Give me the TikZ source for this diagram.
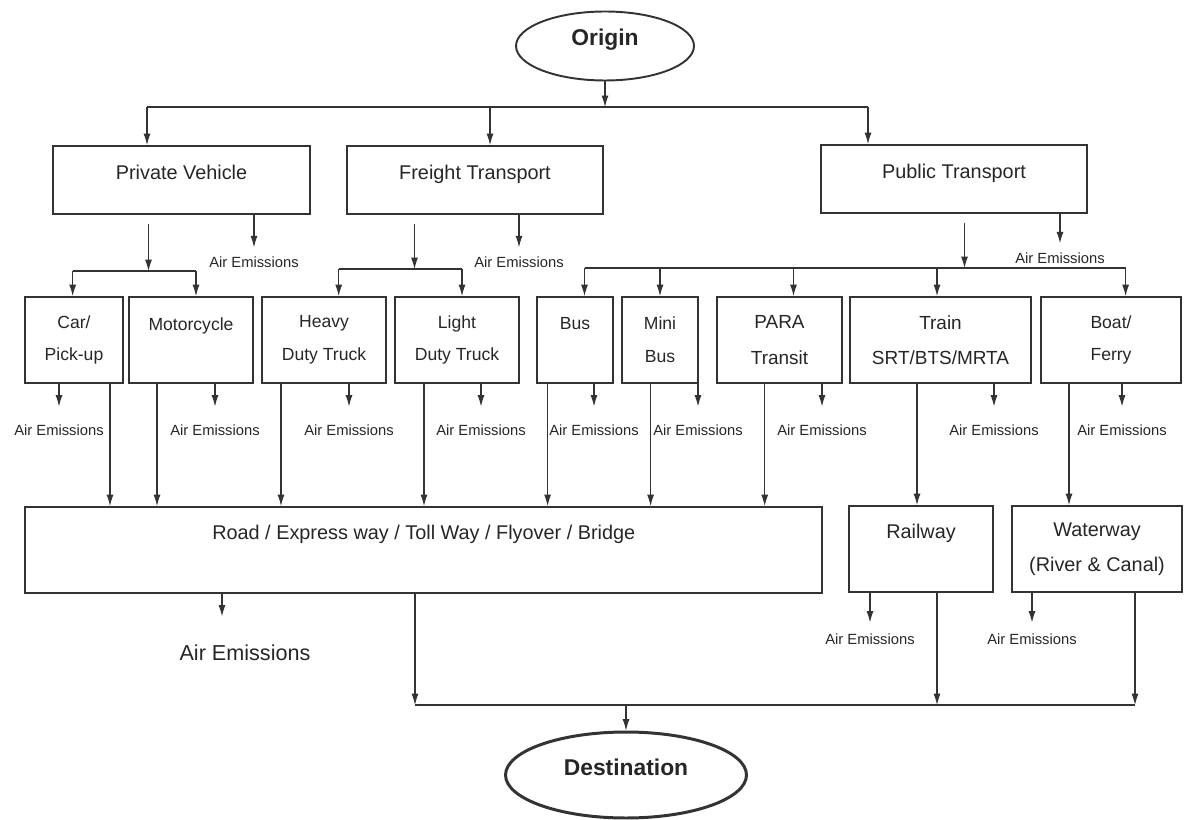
\documentclass[tikz,border=0pt]{standalone}
\usepackage{fontspec}
\setmainfont{Liberation Sans}
\usetikzlibrary{arrows.meta,shapes.geometric}

\begin{document}
\begin{tikzpicture}[x=0.02cm, y=-0.02cm, ->, >={Latex[length=6.5pt,width=4pt]}, draw=black!80, line width=0.6pt]
    \tikzstyle{box}=[rectangle, draw=black!80, line width=1.1pt, inner sep=0pt, align=center, text=black!85]
    \tikzstyle{main box}=[box, minimum height=1.36cm, font=\fontsize{11.3}{13}\selectfont, text height=8pt, text depth=8pt]
    \tikzstyle{mode box}=[box, minimum height=1.72cm, font=\fontsize{10}{18.6}\selectfont]
    \tikzstyle{wide mode box}=[mode box, font=\fontsize{10.8}{20}\selectfont]
    \tikzstyle{way box}=[box, minimum height=1.72cm, font=\fontsize{11.3}{20}\selectfont]
    \tikzstyle{terminal}=[ellipse, draw=black!80, inner sep=0pt, text=black!85, font=\bfseries\fontsize{13}{15}\selectfont, text height=9pt, text depth=9pt]
    \tikzstyle{emis}=[inner sep=0pt, text=black!85, font=\fontsize{8.4}{10}\selectfont]

    \useasboundingbox (0,0) rectangle (1185,820);

    % Draw the origin and the destination
    \node[terminal, minimum width=3.56cm, minimum height=1.38cm, line width=1.1pt] (origin) at (605,46) {Origin};
    \node[terminal, minimum width=4.82cm, minimum height=1.72cm, line width=1.7pt] (dest) at (626,775) {Destination};

    % Draw the transport groups
    \node[main box, minimum width=5.14cm] (private) at (181.5,180) {Private Vehicle};
    \node[main box, minimum width=5.12cm] (freight) at (475,180) {Freight Transport};
    \node[main box, minimum width=5.32cm] (public) at (954,179) {Public Transport};

    % Draw the vehicle types
    \node[mode box, minimum width=1.96cm] (car) at (74,340) {Car/\\Pick-up};
    \node[mode box, minimum width=2.48cm] (moto) at (191,340) {Motorcycle\\\mbox{}};
    \node[mode box, minimum width=2.47cm] (heavy) at (324,340) {Heavy\\Duty Truck};
    \node[mode box, minimum width=2.47cm] (light) at (457,340) {Light\\Duty Truck};
    \node[mode box, minimum width=1.52cm] (bus) at (575,340) {Bus\\\mbox{}};
    \node[mode box, minimum width=1.52cm] (minibus) at (660,340) {Mini\\Bus};
    \node[wide mode box, minimum width=2.5cm] (para) at (779.5,340) {PARA\\Transit};
    \node[wide mode box, minimum width=3.62cm] (train) at (940.5,340) {Train\\SRT/BTS/MRTA};
    \node[mode box, minimum width=2.8cm] (boat) at (1111,340) {Boat/\\Ferry};

    % Draw the ways
    \node[way box, minimum width=15.95cm] (road) at (423.75,550) {Road / Express way / Toll Way / Flyover / Bridge\\\mbox{}};
    \node[way box, minimum width=2.88cm] (rail) at (921,549) {Railway\\\mbox{}};
    \node[way box, minimum width=3.4cm] (water) at (1097,549) {Waterway\\(River \& Canal)};

    % Split the trips at the origin
    \coordinate (private-in) at (147,107);
    \coordinate (freight-in) at (490,107);
    \coordinate (public-in) at (868,107);
    \draw (origin) -- (origin |- private-in);
    \draw[-] (private-in) -- (public-in);
    \foreach \name in {private,freight,public}
        \draw (\name-in) -- (\name-in |- \name.north);

    % Split every group into its vehicle types
    \coordinate (private-split) at (148.5,271);
    \coordinate (car-in) at (72.7,271);
    \coordinate (moto-in) at (196,271);
    \coordinate (freight-split) at (414.5,269);
    \coordinate (heavy-in) at (338.7,269);
    \coordinate (light-in) at (462,269);
    \coordinate (public-split) at (964.5,268);
    \coordinate (bus-in) at (584.5,268);
    \coordinate (minibus-in) at (660,268);
    \coordinate (para-in) at (793.5,268);
    \coordinate (train-in) at (937,268);
    \coordinate (boat-in) at (1125.6,268);
    \foreach \name in {private,freight,public}
        \draw[shorten <=5pt] (\name.south -| \name-split) -- (\name-split);
    \draw[-] (car-in) -- (moto-in);
    \draw[-] (heavy-in) -- (light-in);
    \draw[-] (bus-in) -- (boat-in);
    \foreach \name in {car,moto,heavy,light,bus,minibus,para,train,boat}
        \draw (\name-in) -- (\name-in |- \name.north);

    % Air emissions of the groups
    \foreach \name/\x/\y in {private/254/262, freight/519/262, public/1060/258}
    {
        \node[emis] (\name-ae) at (\x,\y) {Air Emissions};
        \draw[shorten >=5pt] (\name.south -| \name-ae) -- (\name-ae);
    }

    % Air emissions of the vehicle types
    \foreach \name/\x in {car/59, moto/215, heavy/349, light/481, bus/594, minibus/698, para/822, train/994, boat/1122}
    {
        \node[emis] (\name-ae) at (\x,430) {Air Emissions};
        \draw[shorten >=10pt] (\name.south -| \name-ae) -- (\name-ae);
    }

    % Connect the vehicle types with their ways
    \foreach \name/\x in {car/110, moto/157, heavy/281, light/424, bus/547.6, minibus/650.6, para/764.7}
        \draw (\name.south -| \x,0) -- (\x,0 |- road.north);
    \draw (train.south -| 917,0) -- (917,0 |- rail.north);
    \draw (boat.south -| 1069,0) -- (1069,0 |- water.north);

    % Air emissions of the ways
    \node[emis, font=\fontsize{12.3}{14}\selectfont] (road-ae) at (245,653) {Air Emissions};
    \node[emis] (rail-ae) at (870,639) {Air Emissions};
    \node[emis] (water-ae) at (1032,639) {Air Emissions};
    \draw[shorten >=16pt] (road.south -| 222,0) -- (222,0 |- road-ae.north);
    \draw[shorten >=6pt] (rail.south -| rail-ae) -- (rail-ae);
    \draw[shorten >=6pt] (water.south -| water-ae) -- (water-ae);

    % Join the ways at the destination
    \coordinate (road-out) at (415,705);
    \coordinate (rail-out) at (937,705);
    \coordinate (water-out) at (1135,705);
    \foreach \name in {road,rail,water}
        \draw (\name.south -| \name-out) -- (\name-out);
    \draw[-] (road-out) -- (water-out);
    \draw (dest |- road-out) -- (dest);

\end{tikzpicture}
\end{document}
